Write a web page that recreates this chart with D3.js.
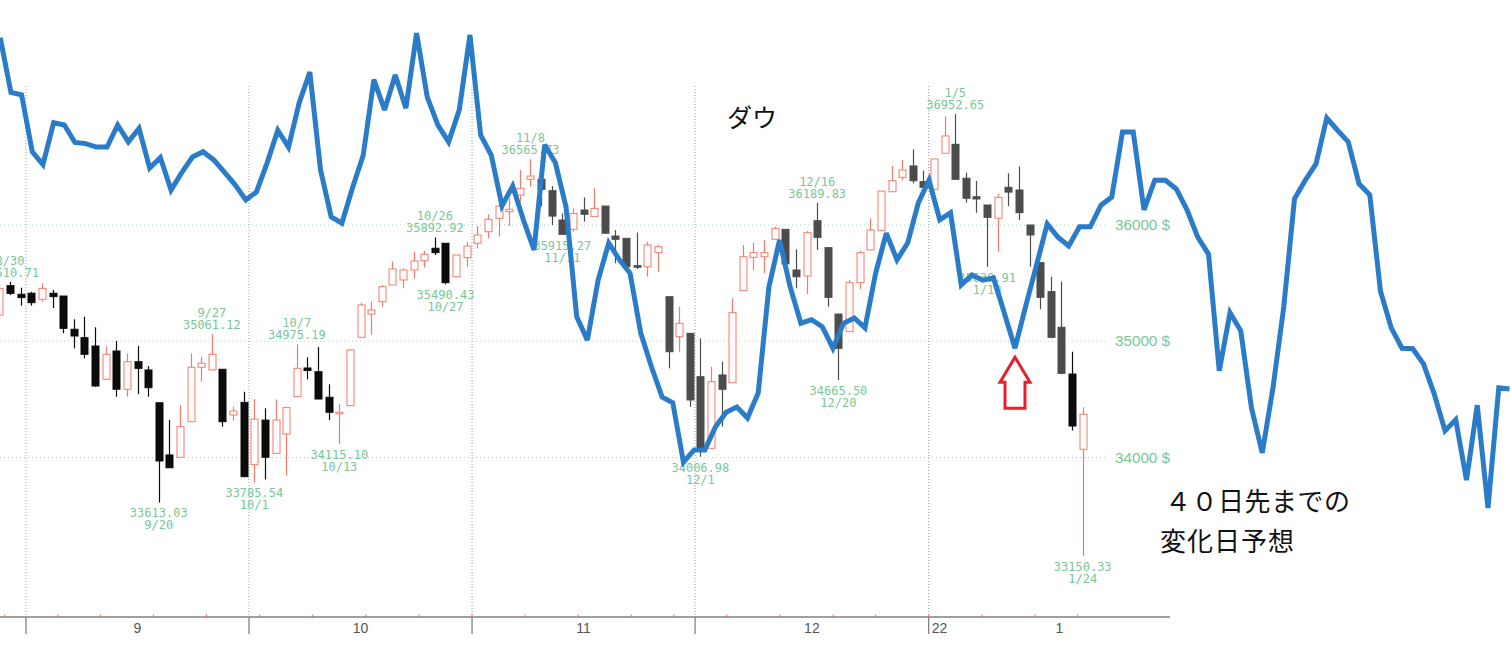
<!DOCTYPE html>
<html><head><meta charset="utf-8">
<script src="https://cdn.jsdelivr.net/npm/d3@7"></script>
<style>html,body{margin:0;padding:0;background:#fff;overflow:hidden}svg{display:block}</style>
</head><body>
<svg id="chart" width="1511" height="646"></svg>
<script>
// ---------- data ----------
const dates = [
"2021-08-27","2021-08-30","2021-08-31",
"2021-09-01","2021-09-02","2021-09-03","2021-09-07","2021-09-08","2021-09-09","2021-09-10","2021-09-13","2021-09-14","2021-09-15","2021-09-16","2021-09-17","2021-09-20","2021-09-21","2021-09-22","2021-09-23","2021-09-24","2021-09-27","2021-09-28","2021-09-29","2021-09-30",
"2021-10-01","2021-10-04","2021-10-05","2021-10-06","2021-10-07","2021-10-08","2021-10-11","2021-10-12","2021-10-13","2021-10-14","2021-10-15","2021-10-18","2021-10-19","2021-10-20","2021-10-21","2021-10-22","2021-10-25","2021-10-26","2021-10-27","2021-10-28","2021-10-29",
"2021-11-01","2021-11-02","2021-11-03","2021-11-04","2021-11-05","2021-11-08","2021-11-09","2021-11-10","2021-11-11","2021-11-12","2021-11-15","2021-11-16","2021-11-17","2021-11-18","2021-11-19","2021-11-22","2021-11-23","2021-11-24","2021-11-26","2021-11-29","2021-11-30",
"2021-12-01","2021-12-02","2021-12-03","2021-12-06","2021-12-07","2021-12-08","2021-12-09","2021-12-10","2021-12-13","2021-12-14","2021-12-15","2021-12-16","2021-12-17","2021-12-20","2021-12-21","2021-12-22","2021-12-23","2021-12-27","2021-12-28","2021-12-29","2021-12-30","2021-12-31",
"2022-01-03","2022-01-04","2022-01-05","2022-01-06","2022-01-07","2022-01-10","2022-01-11","2022-01-12","2022-01-13","2022-01-14","2022-01-18","2022-01-19","2022-01-20","2022-01-21","2022-01-24"];

const openP = [35226,35478,35404,35413,35361,35413,35389,35103,35031,34959,
34673,34916,34587,34824,34753,34471,34022,34002,34308,34776,
34753,34759,34365,34474,33938,34322,34036,34202,34523,34770,
34738,34518,34380,34446,35034,35234,35340,35484,35527,35613,
35693,35800,35843,35555,35719,35843,35942,36058,36115,36258,
36393,36393,36295,36043,35963,36129,36072,36163,35905,35885,
35650,35641,35762,35383,35039,35068,34695,34079,34710,34643,
35435,35722,35727,35877,35963,35613,35561,36037,35805,35234,
35082,35504,35785,35951,36286,36410,36508,36373,36307,36617,
36694,36402,36243,36172,36058,36324,36301,36000,35676,35427,
35120,34718,34071];

const highP = [35490,35511,35461,35426,35498,35441,35389,35189,35211,35120,
34954,35002,34896,34959,34787,34471,34323,34452,34896,34867,
35061,34759,34437,34566,34503,34423,34500,34437,34975,34862,
34950,34630,34460,34930,35333,35340,35484,35684,35627,35770,
35779,35893,35843,35742,35856,35991,36092,36187,36230,36473,
36566,36415,36335,36100,36143,36237,36316,36163,35957,35885,
35934,35856,35828,35383,35297,35068,35025,34781,34824,35369,
35828,35848,35871,35986,35963,35791,35948,36190,35805,35234,
35527,35779,36057,36292,36508,36559,36651,36467,36568,36935,
36953,36450,36379,36172,36267,36445,36502,36000,35676,35555,
35512,34910,34432];

const lowP = [35188,35398,35306,35306,35340,35286,35069,34939,34853,34609,
34667,34523,34523,34546,34523,33613,33912,34002,34308,34652,
34753,34265,34316,33835,33786,33812,34036,33844,34523,34673,
34503,34322,34115,34446,35034,35054,35297,35484,35456,35541,
35636,35742,35490,35555,35641,35799,35885,35899,35991,36201,
36329,36163,36000,35915,35942,36029,36072,35925,35671,35641,
35621,35555,35598,34767,34910,34437,34007,34079,34266,34643,
35435,35613,35585,35877,35665,35456,35406,35785,35297,34666,
35082,35447,35785,35951,36286,36387,36358,36324,36307,36617,
36393,36192,36106,35640,35770,36163,36043,35641,35275,35025,
34716,34232,33150];

const closeP = [35455,35412,35375,35332,35455,35384,35111,35045,34888,34615,
34888,34587,34824,34767,34600,33970,33912,34265,34776,34811,
34888,34308,34400,33835,34330,34002,34322,34429,34767,34748,
34503,34389,34389,34925,35312,35269,35469,35622,35613,35690,
35748,35762,35504,35742,35819,35914,36049,36163,36135,36316,
36421,36307,36077,35920,36100,36092,36143,35929,35877,35641,
35641,35828,35813,34910,35154,34495,34079,34653,34587,35246,
35727,35762,35762,35971,35665,35555,35934,35894,35378,34939,
35504,35762,35957,36292,36381,36473,36381,36324,36568,36766,
36393,36230,36224,36066,36238,36283,36106,35914,35378,35034,
34724,34271,34372];

// 40-day-ahead change-day forecast line (one value per trading day, same price units)
const forecast = [37610,37140,37120,36630,36520,36880,36860,36710,36700,36670,
36670,36860,36715,36830,36490,36580,36300,36450,36585,36630,
36560,36455,36345,36215,36285,36535,36815,36670,37050,37315,
36475,36070,36015,36320,36600,37250,36990,37290,37005,37650,
37100,36860,36715,36990,37635,36775,36600,36165,36335,36045,
35785,36690,36535,36155,35210,35010,35525,35845,35700,35585,
35070,34780,34520,34470,33960,34065,34065,34265,34390,34435,
34340,34555,35465,35870,35465,35155,35185,35125,34940,35155,
35200,35115,35585,35930,35700,35845,36190,36385,36045,36105,
35485,35570,35525,35545,35245,34940,35305,35655,36010,35895,
35820,35985,35985,36170,36240,36800,36800,36130,36385,36385,
36310,36130,35895,35750,34745,35245,35090,34425,34040,34600,
35295,36225,36385,36525,36920,36815,36715,36355,36260,35430,
35115,34940,34935,34805,34545,34230,34325,33805,34450,33565,
34600,34590];

// extreme-price annotations
const hiLabelDay   = [1, 20, 28, 41, 50, 77, 90];
const hiLabelDate  = ["8/30","9/27","10/7","10/26","11/8","12/16","1/5"];
const hiLabelValue = ["35510.71","35061.12","34975.19","35892.92","36565.73","36189.83","36952.65"];
const loLabelDay   = [15, 24, 32, 42, 53, 66, 79, 93, 102];
const loLabelDate  = ["9/20","10/1","10/13","10/27","11/11","12/1","12/20","1/10","1/24"];
const loLabelValue = ["33613.03","33785.54","34115.10","35490.43","35915.27","34006.98","34665.50","35639.91","33150.33"];

const priceTicks  = [34000, 35000, 36000];
const priceSuffix = " $";
const monthLabels = ["9","10","11","12","1"];
const yearLabel   = "22";
const titleText   = "ダウ";
const noteLines   = ["４０日先までの","変化日予想"];

// ---------- scales ----------
const svg = d3.select("#chart");
const parse = d3.timeParse("%Y-%m-%d");
const days = dates.map(parse);
const N = dates.length;

const x  = d3.scaleLinear().domain([0, N - 1]).range([-0.56, 1082.7]);
const xf = d3.scaleLinear().domain([0, 87, forecast.length - 1]).range([0.25, 929, 1509.5]);
const y  = d3.scaleLinear().domain([34000, 36000]).range([457.5, 225]);

const axisY = 617, gridTop = 86, gridRight = 1108;
const green = "#79c797";

// ---------- grid ----------
const gGrid = svg.append("g");
gGrid.selectAll("line.h").data(priceTicks).join("line")
  .attr("x1", 0).attr("x2", gridRight)
  .attr("y1", d => y(d)).attr("y2", d => y(d))
  .attr("stroke", "#a9d9bf").attr("stroke-width", 1).attr("stroke-dasharray", "1,3");

// month boundaries & week boundaries
const monthB = [], weekB = [];
for (let i = 1; i < N; i++) {
  if (days[i].getMonth() !== days[i-1].getMonth()) monthB.push(i - 0.5);
  if (days[i].getDay() <= days[i-1].getDay()) weekB.push(i - 0.5);
}
gGrid.selectAll("line.v").data(monthB).join("line")
  .attr("x1", d => x(d)).attr("x2", d => x(d))
  .attr("y1", gridTop).attr("y2", axisY)
  .attr("stroke", "#9a9a9a").attr("stroke-width", 1).attr("stroke-dasharray", "1,2");

// right price labels
svg.append("g").selectAll("text").data(priceTicks).join("text")
  .attr("x", 1115).attr("y", d => y(d) + 5)
  .attr("font-family", "Liberation Sans, Arial, sans-serif").attr("font-size", 14)
  .attr("textLength", 55).attr("lengthAdjust", "spacingAndGlyphs")
  .attr("fill", green).text(d => d + priceSuffix);

// ---------- axis ----------
const gAx = svg.append("g");
gAx.append("line").attr("x1", 0).attr("x2", 1170).attr("y1", axisY).attr("y2", axisY)
  .attr("stroke", "#a0a0a0").attr("stroke-width", 2);
gAx.selectAll("line.m").data(monthB).join("line")
  .attr("x1", d => x(d)).attr("x2", d => x(d)).attr("y1", axisY).attr("y2", axisY + 17)
  .attr("stroke", "#777").attr("stroke-width", 1.2);
gAx.selectAll("line.w").data(weekB).join("line")
  .attr("x1", d => x(d)).attr("x2", d => x(d)).attr("y1", axisY - 2.5).attr("y2", axisY + 1)
  .attr("stroke", "#ff6a5a").attr("stroke-width", 1);
// month label centres: middle of each month's span
const monthStarts = [-0.5].concat(monthB); // first entry is partial August; skip it
const labelPos = [];
for (let k = 1; k < monthStarts.length; k++) {
  const a = monthStarts[k];
  const b = k + 1 < monthStarts.length ? monthStarts[k + 1] : a + 24.6;
  labelPos.push((a + b) / 2);
}
gAx.selectAll("text.m").data(monthLabels).join("text")
  .attr("x", (d, i) => x(labelPos[i])).attr("y", axisY + 16)
  .attr("text-anchor", "middle").attr("font-family", "Liberation Sans, Arial, sans-serif")
  .attr("font-size", 14).attr("fill", "#555").text(d => d);
gAx.append("text").attr("x", x(monthB[monthB.length - 1]) + 3).attr("y", axisY + 16)
  .attr("font-family", "Liberation Sans, Arial, sans-serif").attr("font-size", 14)
  .attr("fill", "#555").text(yearLabel);

// ---------- candles ----------
const upCol = "#f47b6c";
const downFill = i => (i < 45 || i === N - 2) ? "#0b0b0b" : "#4c4c4c";
const bw = 7;
const gC = svg.append("g");
d3.range(N).forEach(i => {
  const up = closeP[i] >= openP[i];
  const col = up ? upCol : downFill(i);
  const cx = Math.round(x(i)) + 0.5;
  gC.append("line").attr("x1", cx).attr("x2", cx)
    .attr("y1", y(highP[i])).attr("y2", y(lowP[i]))
    .attr("stroke", col).attr("stroke-width", 1.2);
  const top = y(Math.max(openP[i], closeP[i]));
  const h = Math.max(1.5, y(Math.min(openP[i], closeP[i])) - top);
  gC.append("rect").attr("x", cx - bw / 2).attr("y", top).attr("width", bw).attr("height", h)
    .attr("fill", up ? "#fff" : col).attr("stroke", col).attr("stroke-width", 1);
});

// ---------- extreme labels ----------
const gL = svg.append("g").attr("font-family", "DejaVu Sans Mono, monospace")
  .attr("font-size", 12).attr("fill", green).attr("text-anchor", "middle");
hiLabelDay.forEach((d, k) => {
  gL.append("text").attr("x", x(d)).attr("y", y(highP[d]) - 17).text(hiLabelDate[k]);
  gL.append("text").attr("x", x(d)).attr("y", y(highP[d]) - 5).text(hiLabelValue[k]);
});
loLabelDay.forEach((d, k) => {
  gL.append("text").attr("x", x(d)).attr("y", y(lowP[d]) + 15).text(loLabelValue[k]);
  gL.append("text").attr("x", x(d)).attr("y", y(lowP[d]) + 27).text(loLabelDate[k]);
});

// ---------- forecast line ----------
const defs = svg.append("defs");
defs.append("filter").attr("id", "soft").append("feGaussianBlur").attr("stdDeviation", 0.55);
const line = d3.line().x((d, i) => xf(i)).y(d => y(d));
svg.append("path").datum(forecast).attr("d", line)
  .attr("fill", "none").attr("stroke", "#2a7bc9").attr("stroke-width", 5)
  .attr("stroke-linejoin", "miter").attr("stroke-miterlimit", 3).attr("filter", "url(#soft)");

// ---------- arrow at forecast trough ----------
const troughIdx = d3.minIndex(forecast.slice(88, 102)) + 88;
const tx = xf(troughIdx), ty = y(forecast[troughIdx]) + 9;
const arrow = [[0,0],[15,25],[10,25],[10,51],[-10,51],[-10,25],[-15,25]];
svg.append("path")
  .attr("d", "M" + arrow.map(p => [tx + p[0], ty + p[1]].join(",")).join("L") + "Z")
  .attr("fill", "#fff").attr("stroke", "#e8202a").attr("stroke-width", 3).attr("stroke-linejoin", "miter");

// ---------- texts ----------
const cjk = "Noto Sans CJK JP, sans-serif";
svg.append("text").attr("x", 727).attr("y", 127).attr("font-family", cjk)
  .attr("font-size", 25).attr("fill", "#111").text(titleText);
svg.append("text").attr("x", 1165).attr("y", 511).attr("font-family", cjk)
  .attr("font-size", 26).attr("fill", "#111").attr("letter-spacing", 0.5).text(noteLines[0]);
svg.append("text").attr("x", 1160).attr("y", 551).attr("font-family", cjk)
  .attr("font-size", 26).attr("fill", "#111").attr("letter-spacing", 1).text(noteLines[1]);
</script>
</body></html>
